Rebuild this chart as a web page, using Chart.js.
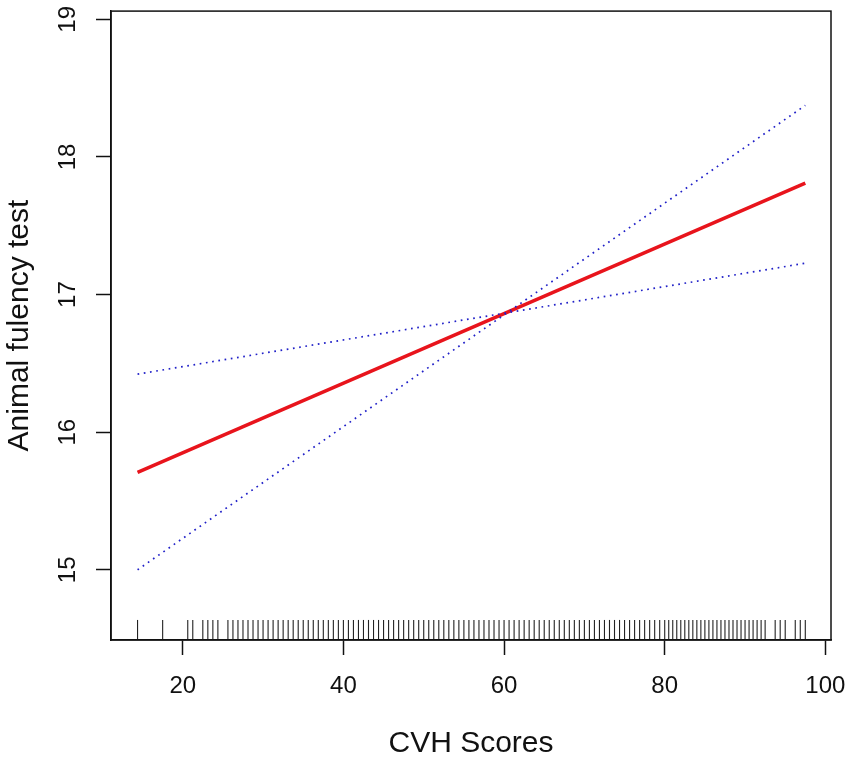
<!DOCTYPE html>
<html>
<head>
<meta charset="utf-8">
<title>Animal fulency test vs CVH Scores</title>
<script src="https://cdn.jsdelivr.net/npm/chart.js@4/dist/chart.umd.min.js"></script>
<style>
    html, body { margin: 0; padding: 0; background: #fff; }
    #wrap { width: 851px; height: 762px; }
</style>
</head>
<body>
<div id="wrap"><canvas id="cvh-chart" width="851" height="762"></canvas></div>
<script>
// x values where the fitted line and bands start / end
const xEnds = [14.375, 97.5];
const fitValues = [15.708, 17.81];
const bandFlat = [16.422, 17.228];
const bandSteep = [15.0, 18.375];

const xTicks = [20, 40, 60, 80, 100];
const yTicks = [15, 16, 17, 18, 19];

// observed CVH scores (rug along the bottom)
const rugScores = [
    14.375, 17.5, 20.625, 21.25, 22.5, 23.125, 23.75, 24.375,
    25.625, 26.25, 26.875, 27.5, 28.125, 28.75, 29.375, 30, 30.625, 31.25,
    31.875, 32.5, 33.125, 33.75, 34.375, 35, 35.625, 36.25, 36.875, 37.5,
    38.125, 38.75, 39.375, 40, 40.625, 41.25, 41.875, 42.5, 43.125, 43.75,
    44.375, 45, 45.625, 46.25, 46.875, 47.5, 48.125, 48.75, 49.375, 50,
    50.625, 51.25, 51.875, 52.5, 53.125, 53.75, 54.375, 55, 55.625, 56.25,
    56.875, 57.5, 58.125, 58.75, 59.375, 60, 60.625, 61.25, 61.875, 62.5,
    63.125, 63.75, 64.375, 65, 65.625, 66.25, 66.875, 67.5, 68.125, 68.75,
    69.375, 70, 70.625, 71.25, 71.875, 72.5, 73.125, 73.75, 74.375, 75,
    75.625, 76.25, 76.875, 77.5, 78.125, 78.75, 79.375,
    80, 80.5, 81, 81.5, 82, 82.5, 83, 83.5, 84, 84.5, 85, 85.5, 86, 86.5,
    87, 87.5, 88, 88.5, 89, 89.5, 90, 90.5, 91, 91.5, 92, 92.5,
    93.75, 94.375, 95, 96.25, 96.875, 97.5
];

const X_MIN = 11.07, X_MAX = 100.7;
const Y_MIN = 14.49, Y_MAX = 19.06;
const RUG_Y = 14.563; // middle of the rug marks

const FONT = '"Liberation Sans", Arial, Helvetica, sans-serif';

class CvhChart {
    constructor() {
        this.canvas = document.getElementById("cvh-chart");
        this.init();
    }

    init() {
        this.render();
    }

    toPoints(ys) {
        return xEnds.map((x, i) => ({ x: x, y: ys[i] }));
    }

    // R style box around the plot region
    boxPlugin() {
        return {
            id: "plotBox",
            afterDraw(chart) {
                const a = chart.chartArea;
                const ctx = chart.ctx;
                ctx.save();
                ctx.strokeStyle = "#111";
                ctx.lineWidth = 1.5;
                ctx.strokeRect(a.left, a.top, a.right - a.left, a.bottom - a.top);
                ctx.restore();
            },
        };
    }

    render() {
        const tickFont = { family: FONT, size: 24 };
        const titleFont = { family: FONT, size: 30 };

        this.chart = new Chart(this.canvas.getContext("2d"), {
            type: "scatter",
            data: {
                datasets: [
                    {
                        label: "rug",
                        data: rugScores.map((v) => ({ x: v, y: RUG_Y })),
                        pointStyle: "line",
                        rotation: 90,
                        radius: 10,
                        borderWidth: 1.1,
                        borderColor: "#222",
                        showLine: false,
                    },
                    {
                        label: "band flat",
                        data: this.toPoints(bandFlat),
                        showLine: true,
                        borderColor: "#2020c8",
                        borderWidth: 1.7,
                        borderDash: [1.7, 4.6],
                        pointRadius: 0,
                    },
                    {
                        label: "band steep",
                        data: this.toPoints(bandSteep),
                        showLine: true,
                        borderColor: "#2020c8",
                        borderWidth: 1.7,
                        borderDash: [1.7, 4.6],
                        pointRadius: 0,
                    },
                    {
                        label: "fit",
                        data: this.toPoints(fitValues),
                        showLine: true,
                        borderColor: "#e8141c",
                        borderWidth: 3.5,
                        pointRadius: 0,
                    },
                ],
            },
            options: {
                responsive: false,
                animation: false,
                events: [],
                layout: { padding: { top: 11, right: 20, left: 0, bottom: 0 } },
                plugins: {
                    legend: { display: false },
                    tooltip: { enabled: false },
                },
                scales: {
                    x: {
                        type: "linear",
                        min: X_MIN,
                        max: X_MAX,
                        afterBuildTicks: (s) => { s.ticks = xTicks.map((v) => ({ value: v })); },
                        afterFit: (s) => {
                            s.height = 122;
                            s.paddingLeft = 0;
                            s.paddingRight = 0;
                        },
                        grid: {
                            drawOnChartArea: false,
                            tickLength: 15,
                            tickColor: "#111",
                            tickWidth: 1.5,
                        },
                        border: { display: true, color: "#111", width: 1.5 },
                        ticks: { font: tickFont, color: "#111", padding: 17, maxRotation: 0 },
                        title: {
                            display: true,
                            text: "CVH Scores",
                            font: titleFont,
                            color: "#111",
                            padding: { top: 0, bottom: 0 },
                        },
                    },
                    y: {
                        type: "linear",
                        min: Y_MIN,
                        max: Y_MAX,
                        afterBuildTicks: (s) => { s.ticks = yTicks.map((v) => ({ value: v })); },
                        afterFit: (s) => {
                            s.width = 111;
                            s.paddingTop = 0;
                            s.paddingBottom = 0;
                        },
                        grid: {
                            drawOnChartArea: false,
                            tickLength: 15,
                            tickColor: "#111",
                            tickWidth: 1.5,
                        },
                        border: { display: true, color: "#111", width: 1.5 },
                        ticks: {
                            font: tickFont,
                            color: "#111",
                            padding: 14,
                            minRotation: 90,
                            maxRotation: 90,
                            crossAlign: "center",
                        },
                        title: {
                            display: true,
                            text: "Animal fulency test",
                            font: titleFont,
                            color: "#111",
                            padding: { top: 2, bottom: 0 },
                        },
                    },
                },
            },
            plugins: [this.boxPlugin()],
        });
    }
}

document.addEventListener("DOMContentLoaded", () => {
    new CvhChart();
});
</script>
</body>
</html>
